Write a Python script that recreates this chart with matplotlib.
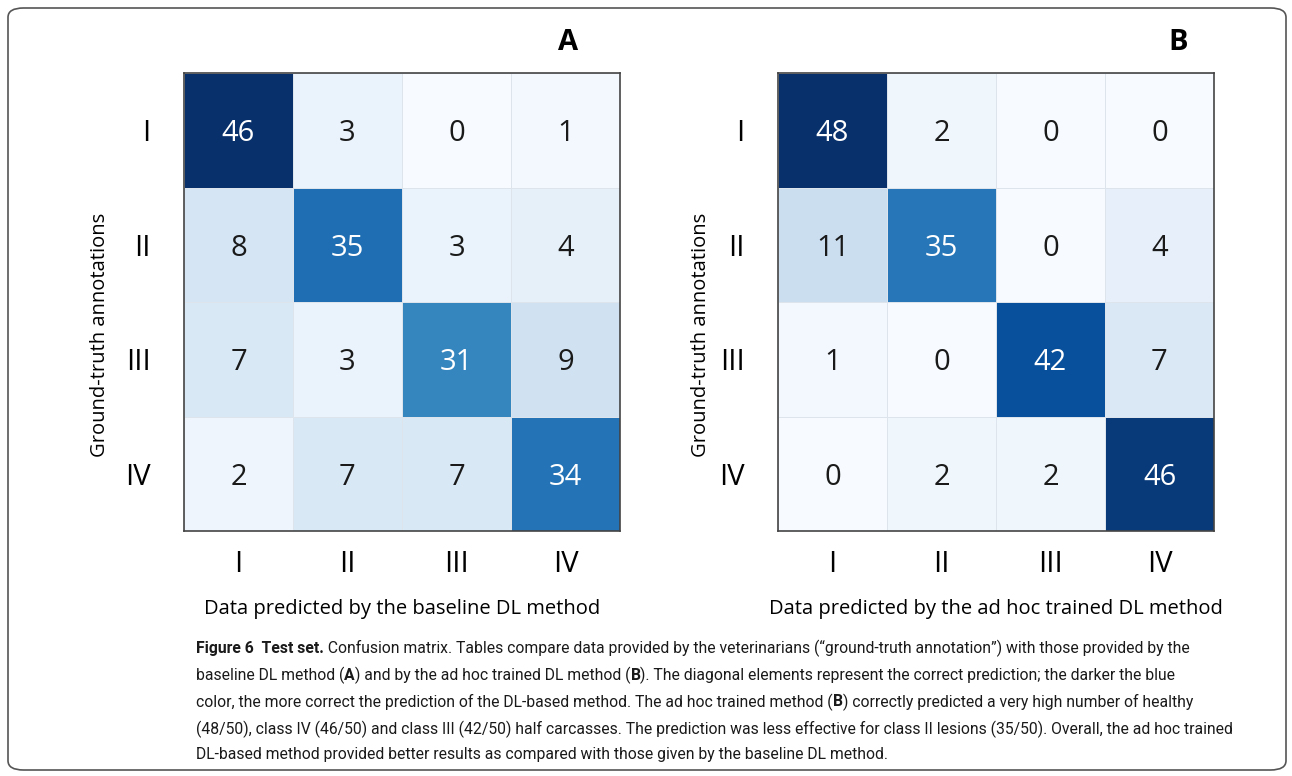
import numpy as np
import matplotlib
matplotlib.use("Agg")
import matplotlib.pyplot as plt
from matplotlib.patches import FancyBboxPatch

classes = ["I", "II", "III", "IV"]

cm_baseline = np.array([[46, 3, 0, 1],
                        [8, 35, 3, 4],
                        [7, 3, 31, 9],
                        [2, 7, 7, 34]])

cm_adhoc = np.array([[48, 2, 0, 0],
                     [11, 35, 0, 4],
                     [1, 0, 42, 7],
                     [0, 2, 2, 46]])

panel_letters = ["A", "B"]
x_labels = ["Data predicted by the baseline DL method",
            "Data predicted by the ad hoc trained DL method"]
y_label = "Ground-truth annotations"

# caption lines, (text, bold) pieces
caption = [
    [("Figure 6  Test set.", True),
     (" Confusion matrix. Tables compare data provided by the veterinarians (\u201cground-truth annotation\u201d) with those provided by the", False)],
    [("baseline DL method (", False), ("A", True),
     (") and by the ad hoc trained DL method (", False), ("B", True),
     ("). The diagonal elements represent the correct prediction; the darker the blue", False)],
    [("color, the more correct the prediction of the DL-based method. The ad hoc trained method (", False), ("B", True),
     (") correctly predicted a very high number of healthy", False)],
    [("(48/50), class IV (46/50) and class III (42/50) half carcasses. The prediction was less effective for class II lesions (35/50). Overall, the ad hoc trained", False)],
    [("DL-based method provided better results as compared with those given by the baseline DL method.", False)],
]

plt.rcParams['font.family'] = ['Open Sans', 'DejaVu Sans']

W, H = 1292, 776
fig = plt.figure(figsize=(W / 100, H / 100), dpi=100)


def px_rect(x0, y0, x1, y1):
    return [x0 / W, 1 - y1 / H, (x1 - x0) / W, (y1 - y0) / H]


border = FancyBboxPatch((8 / W, 6 / H), (W - 14) / W, (H - 14) / H,
                        boxstyle="round,pad=0,rounding_size=0.012",
                        transform=fig.transFigure, fill=False,
                        edgecolor="#555555", linewidth=1.2)
fig.patches.append(border)

lefts = [184, 778]
letter_x = [568, 1178]
for k, cm in enumerate([cm_baseline, cm_adhoc]):
    ax = fig.add_axes(px_rect(lefts[k], 73, lefts[k] + 436, 531))
    ax.pcolormesh(cm, cmap="Blues", vmin=0, vmax=cm.max(),
                  edgecolors="#dde4ec", linewidth=0.6)
    ax.set_xlim(0, 4)
    ax.set_ylim(4, 0)
    thr = cm.max() / 2
    for i in range(4):
        for j in range(4):
            ax.text(j + 0.5, i + 0.53, str(cm[i, j]), ha="center", va="center",
                    fontsize=21, color="white" if cm[i, j] > thr else "#1a1a1a")
    ax.set_xticks(np.arange(4) + 0.5)
    ax.set_yticks(np.arange(4) + 0.5)
    ax.set_xticklabels(classes, fontsize=21)
    ax.set_yticklabels(classes, fontsize=21)
    ax.tick_params(axis="x", length=0, pad=14)
    ax.tick_params(axis="y", length=0, pad=24)
    for s in ax.spines.values():
        s.set_color("#444444")
        s.set_linewidth(1.2)
    ax.set_xlabel(x_labels[k], fontsize=14.5, va="center")
    ax.xaxis.set_label_coords(0.5, -(609 - 531) / 458, transform=ax.transAxes)
    ax.set_ylabel(y_label, fontsize=14.5, va="center")
    ax.yaxis.set_label_coords(-(lefts[k] - (100 if k == 0 else 701)) / 436,
                              1 - (335 - 73) / 458, transform=ax.transAxes)
    fig.text(letter_x[k] / W, 1 - 42 / H, panel_letters[k], ha="center", va="center",
             fontsize=21, fontweight="bold")

# caption, sized so the lines end about where the reference lines end
renderer = fig.canvas.get_renderer()
cap_family = ['Roboto', 'DejaVu Sans']


def line_width(parts, size):
    w = 0
    for txt, bold in parts:
        t = fig.text(0, 0, txt, fontsize=size, family=cap_family,
                     fontweight="bold" if bold else "normal")
        w += t.get_window_extent(renderer=renderer).width
        t.remove()
    return w


cap_size = min(12 * 1052 / line_width(caption[0], 12),
               12 * 1034 / line_width(caption[3], 12))
line_y = [648, 675, 702, 729, 755]
for parts, yy in zip(caption, line_y):
    x = 196 / W
    for txt, bold in parts:
        t = fig.text(x, 1 - yy / H, txt, fontsize=cap_size, va="center",
                     fontweight="bold" if bold else "normal",
                     family=cap_family, color="#1a1a1a")
        bb = t.get_window_extent(renderer=renderer)
        x += bb.width / W

fig.savefig("out.png", dpi=100)
